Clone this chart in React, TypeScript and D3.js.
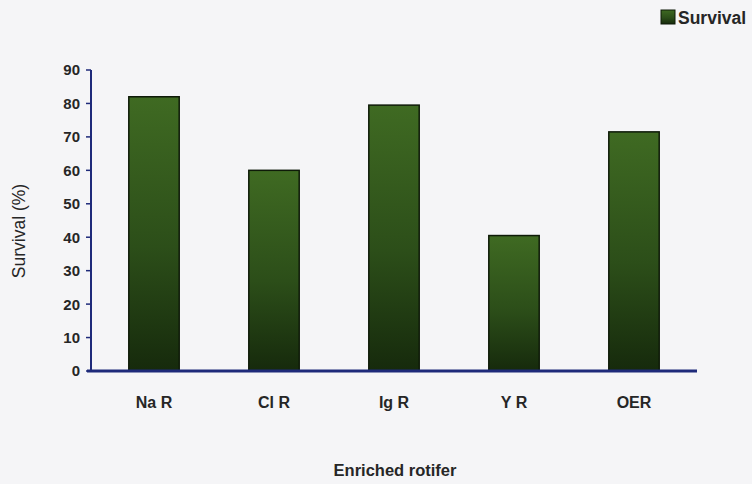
import React from "react";
import * as d3 from "d3";

const categories = ["Na R", "Cl R", "Ig R", "Y R", "OER"];
const survival = [82, 60, 79.5, 40.5, 71.5];
const yTicks = [0, 10, 20, 30, 40, 50, 60, 70, 80, 90];

const W = 752;
const H = 484;
const axisColor = "#1e2a7a";
const font = "'Liberation Sans', Arial, sans-serif";

export default function App() {
  const x = d3.scaleBand<string>().domain(categories).range([94, 694]).paddingInner(0.58).paddingOuter(0.29);
  const y = d3.scaleLinear().domain([0, 90]).range([371, 70]);
  const bw = x.bandwidth();
  return (
    <svg width={W} height={H} style={{ position: "absolute", left: 0, top: 0, background: "#f5f5f7" }}>
      <defs>
        <linearGradient id="barGrad" x1="0" y1="0" x2="0" y2="1">
          <stop offset="0%" stopColor="#3f6a22" />
          <stop offset="55%" stopColor="#2c4e19" />
          <stop offset="100%" stopColor="#162a0c" />
        </linearGradient>
      </defs>
      <rect x={0} y={0} width={W} height={H} fill="#f5f5f7" />
      {categories.map((c, i) => (
        <rect
          key={c}
          x={x(c)}
          y={y(survival[i])}
          width={bw}
          height={y(0) - y(survival[i])}
          fill="url(#barGrad)"
          stroke="#0e1a08"
          strokeWidth={1.5}
        />
      ))}
      <line x1={91} x2={91} y1={70} y2={372} stroke={axisColor} strokeWidth={2} />
      {yTicks.map((t) => (
        <g key={t}>
          <line x1={86} x2={91} y1={y(t)} y2={y(t)} stroke={axisColor} strokeWidth={1.5} />
          <text x={80} y={y(t)} dy="0.36em" textAnchor="end" fontFamily={font} fontSize={15} fontWeight="bold" fill="#262626">
            {t}
          </text>
        </g>
      ))}
      <line x1={87} x2={697} y1={371} y2={371} stroke={axisColor} strokeWidth={3} />
      {categories.map((c) => (
        <text key={c} x={(x(c) ?? 0) + bw / 2} y={408} textAnchor="middle" fontFamily={font} fontSize={16} fontWeight="bold" fill="#262626">
          {c}
        </text>
      ))}
      <text
        transform={`translate(19, 231) rotate(-90)`}
        textAnchor="middle"
        dy="0.35em"
        fontFamily={font}
        fontSize={17.5}
        fill="#262626"
      >
        Survival (%)
      </text>
      <text x={395} y={476} textAnchor="middle" fontFamily={font} fontSize={16.5} fontWeight="bold" fill="#262626">
        Enriched rotifer
      </text>
      <rect x={661} y={10} width={14} height={14} fill="url(#barGrad)" stroke="#0e1a08" strokeWidth={1} />
      <text x={678} y={24} fontFamily={font} fontSize={17.5} fontWeight="bold" fill="#262626">
        Survival
      </text>
    </svg>
  );
}
